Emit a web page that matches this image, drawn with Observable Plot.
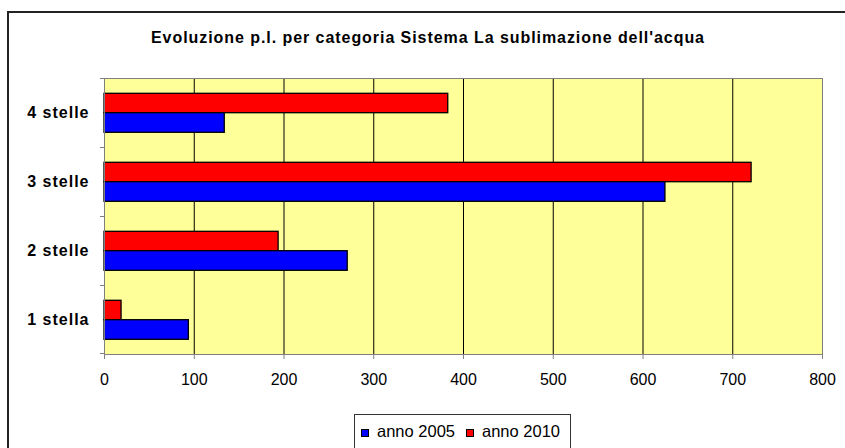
<!DOCTYPE html>
<html><head><meta charset="utf-8">
<script src="https://cdn.jsdelivr.net/npm/d3@7"></script>
<script src="https://cdn.jsdelivr.net/npm/@observablehq/plot@0.6"></script>
<style>
html,body{margin:0;padding:0;background:#fff;overflow:hidden;}
#wrap{position:relative;width:845px;height:448px;overflow:hidden;font-family:"Liberation Sans",Arial,sans-serif;}
#border{position:absolute;left:7px;top:11px;width:900px;height:500px;border:2px solid #222;}
#chart{position:absolute;left:0;top:0;}
#title{position:absolute;left:0;top:0;}
#legend{position:absolute;left:354px;top:414px;width:215px;height:60px;border:1px solid #333;background:#fff;}
#legend .sw{position:absolute;width:6px;height:6px;border:1px solid #000;}
#legend .lt{position:absolute;font-size:16.5px;line-height:16px;color:#000;white-space:nowrap;}
#chart g[aria-label="y-axis tick label"] text{letter-spacing:1px;}
</style></head><body>
<div id="wrap">
<div id="border"></div>
<div id="chart"></div>
<svg id="title" width="845" height="60"><text x="151" y="43" textLength="553" lengthAdjust="spacing" font-weight="bold" font-size="16" font-family="Liberation Sans, Arial, sans-serif" fill="#000">Evoluzione p.l. per categoria Sistema La sublimazione dell'acqua</text></svg>
<div id="legend"></div>
</div>
<script>
const categories = ["4 stelle", "3 stelle", "2 stelle", "1 stella"];
const values2005 = [134, 625, 271, 94];
const values2010 = [383, 721, 194, 19];
const xTicks = [0, 100, 200, 300, 400, 500, 600, 700, 800];
const seriesNames = ["anno 2005", "anno 2010"];
const seriesColors = ["#0000FF", "#FF0000"];

const d2005 = categories.map((c, i) => ({cat: c, v: values2005[i]}));
const d2010 = categories.map((c, i) => ({cat: c, v: values2010[i]}));

const chart = Plot.plot({
  width: 845,
  height: 448,
  marginLeft: 104,
  marginRight: 23,
  marginTop: 78,
  marginBottom: 94,
  style: {fontFamily: "Liberation Sans, Arial, sans-serif", background: "transparent", overflow: "visible", color: "#000"},
  x: {domain: [0, 800], ticks: xTicks, label: null},
  y: {domain: categories, padding: 0, label: null},
  marks: [
    Plot.frame({fill: "#FFFF99", stroke: "none"}),
    Plot.ruleX(xTicks.slice(1, -1), {stroke: "#000", strokeWidth: 1}),
    Plot.barX(d2010, {x: "v", y: "cat", fill: seriesColors[1], stroke: "#000", strokeWidth: 1.3, insetTop: 15.3, insetBottom: 34.3}),
    Plot.barX(d2005, {x: "v", y: "cat", fill: seriesColors[0], stroke: "#000", strokeWidth: 1.3, insetTop: 34.7, insetBottom: 14.7}),
    Plot.frame({stroke: "#808080", fill: "none"}),
    Plot.barX(categories, {y: d => d, x1: -4.5, x2: 0, insetBottom: 68, fill: "#808080"}),
    Plot.barX(categories.slice(-1), {y: d => d, x1: -4.5, x2: 0, insetTop: 68, fill: "#808080"}),
    Plot.axisX({ticks: xTicks, tickSize: 5, tickPadding: 14, stroke: "#808080", fontSize: 16, fill: "#000", label: null, tickFormat: d => String(d)}),
    Plot.axisY({tickSize: 0, tickPadding: 15, fontSize: 16, fontWeight: "bold", fill: "#000", label: null})
  ]
});
document.getElementById("chart").appendChild(chart);

const legend = document.getElementById("legend");
const swLeft = [6, 111];
const txtLeft = [22, 127];
seriesNames.forEach((name, i) => {
  const sw = document.createElement("div");
  sw.className = "sw";
  sw.style.left = swLeft[i] + "px";
  sw.style.top = "14px";
  sw.style.background = seriesColors[i];
  legend.appendChild(sw);
  const t = document.createElement("div");
  t.className = "lt";
  t.style.left = txtLeft[i] + "px";
  t.style.top = "8px";
  t.textContent = name;
  legend.appendChild(t);
});
</script>
</body></html>
